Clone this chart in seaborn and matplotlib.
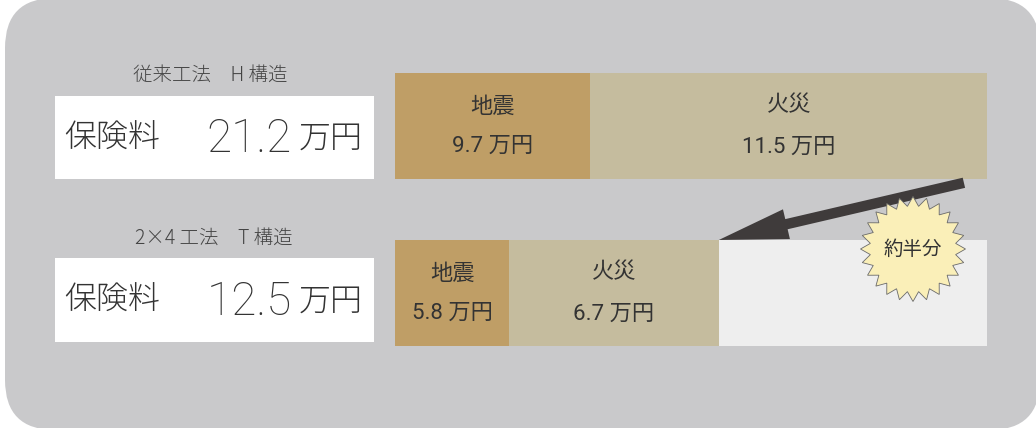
import numpy as np
import pandas as pd
import matplotlib
matplotlib.use("Agg")
import matplotlib.pyplot as plt
from matplotlib.patches import FancyBboxPatch, Rectangle, Polygon
import seaborn as sns

# ---------------- data ----------------
categories = ["従来工法　H 構造", "2×4 工法　T 構造"]
premium_totals = ["21.2", "12.5"]
quake_values = ["9.7", "5.8"]
fire_values = ["11.5", "6.7"]
# segment lengths as drawn in the picture (percent of the upper bar length)
quake_len = [33.0, 19.3]
fire_len = [67.0, 35.4]
saved_len = [0.0, 45.3]
segment_names = ["地震", "火災"]
badge_text = "約半分"

# ---------------- style ----------------
sns.set_theme(style="white")
plt.rcParams['font.family'] = ['Noto Sans CJK JP', 'DejaVu Sans']
NUM_FONT = ['Roboto', 'Noto Sans CJK JP', 'DejaVu Sans']

W, H = 1036, 428
fig = plt.figure(figsize=(W / 100, H / 100), dpi=100, facecolor="white")

def fx(x):
    return x / W

def fy(y):
    return 1 - y / H

TXT = "#333333"
BG = "#c9c9cb"
C_QUAKE = "#bf9e66"
C_FIRE = "#c5bc9e"
C_SAVED = "#eeeeee"

# background rounded panel
bg = FancyBboxPatch((5 / 100, (H - 430) / 100), (1040 - 5) / 100, (430 + 2) / 100,
                    boxstyle="round,pad=0,rounding_size=0.5",
                    transform=fig.dpi_scale_trans, facecolor=BG, edgecolor="none",
                    zorder=-2)
fig.add_artist(bg)

# left labels + white boxes
box_tops = [96, 258]
box_bottoms = [179, 342]
sub_y = [75, 238]
sub_x = [210, 214]
for i in range(2):
    rect = Rectangle((fx(55), fy(box_bottoms[i])), fx(374) - fx(55),
                     fy(box_tops[i]) - fy(box_bottoms[i]),
                     transform=fig.transFigure, facecolor="white",
                     edgecolor="none", zorder=-1)
    fig.add_artist(rect)
    fig.text(fx(sub_x[i]), fy(sub_y[i]), categories[i], ha="center", va="center",
             fontsize=14, color="#444444", fontweight="light")
    cy = (box_tops[i] + box_bottoms[i]) / 2 + 1
    fig.text(fx(64), fy(cy), "保険料", ha="left", va="center", fontsize=23,
             color=TXT, fontweight="light")
    fig.text(fx(292), fy(cy + 1), premium_totals[i], ha="right", va="center",
             fontsize=33, color=TXT, fontweight="light", family=NUM_FONT)
    fig.text(fx(299), fy(cy), "万円", ha="left", va="center", fontsize=23,
             color=TXT, fontweight="light")

# ---------------- bars ----------------
bar_h = 0.635
ax = fig.add_axes([fx(395), fy(376.5), fx(987) - fx(395), (376.5 - 42.5) / H])
ax.patch.set_alpha(0)

tot_len = [q + f + s for q, f, s in zip(quake_len, fire_len, saved_len)]
qf_len = [q + f for q, f in zip(quake_len, fire_len)]

sns.barplot(x=tot_len, y=categories, orient="h", color=C_SAVED, saturation=1,
            width=bar_h, ax=ax, linewidth=0)
sns.barplot(x=qf_len, y=categories, orient="h", color=C_FIRE, saturation=1,
            width=bar_h, ax=ax, linewidth=0)
sns.barplot(x=quake_len, y=categories, orient="h", color=C_QUAKE, saturation=1,
            width=bar_h, ax=ax, linewidth=0)

ax.set_xlim(0, 100)
ax.set_ylim(1.5, -0.5)
ax.axis("off")

for i in range(2):
    qc = quake_len[i] / 2
    fc = quake_len[i] + fire_len[i] / 2
    ax.text(qc, i - 0.12, segment_names[0], ha="center", va="center",
            fontsize=16, color=TXT)
    ax.text(qc, i + 0.12, f"{quake_values[i]} 万円", ha="center", va="center",
            fontsize=16, color=TXT, family=NUM_FONT)
    ax.text(fc, i - 0.13, segment_names[1], ha="center", va="center",
            fontsize=16, color=TXT)
    ax.text(fc, i + 0.13, f"{fire_values[i]} 万円", ha="center", va="center",
            fontsize=16, color=TXT, family=NUM_FONT)

# arrow from end of upper bar to end of lower 火災 segment
ax.annotate("", xy=(qf_len[1], 1 - bar_h / 2), xytext=(96.1, 0.34),
            arrowprops=dict(arrowstyle="simple,head_length=5,head_width=2.2,tail_width=0.75",
                            mutation_scale=10, color="#3f3b3b", shrinkA=0, shrinkB=0,
                            linewidth=0),
            zorder=4, annotation_clip=False)

# starburst badge
n = 24
cx, cy = 9.13, (H - 249) / 100
r_out, r_in = 0.525, 0.43
ang = np.linspace(0, 2 * np.pi, 2 * n, endpoint=False) + np.pi / 2
rad = np.where(np.arange(2 * n) % 2 == 0, r_out, r_in)
pts = np.column_stack([cx + rad * np.cos(ang), cy + rad * np.sin(ang)])
star = Polygon(pts, closed=True, transform=fig.dpi_scale_trans,
               facecolor="#faefb8", edgecolor="#6a6a6a", linewidth=0.6, zorder=5)
fig.add_artist(star)
fig.text(cx / (W / 100), cy / (H / 100), badge_text, ha="center", va="center",
         fontsize=14, color=TXT, zorder=6)

fig.savefig("out.png", dpi=100, facecolor="white")
